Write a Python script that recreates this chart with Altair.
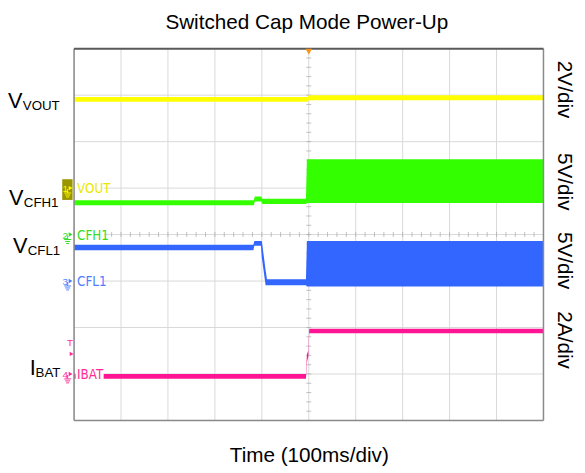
import altair as alt
import pandas as pd

# ---------------- data ----------------
# time in ms (100 ms/div, 10 div); channel values in V or A
channels = ["VOUT", "CFH1", "CFL1", "IBAT"]
ref_div = [5, 4, 3, 1]          # ground reference position (div)
per_div = [2, 5, 5, 2]          # units per division
scale_text = ["2V/div", "5V/div", "5V/div", "2A/div"]

vout_t = [0, 498, 500, 1000]
vout_lo = [3.72, 3.72, 3.78, 3.78]
vout_hi = [3.92, 3.92, 4.00, 4.00]

cfh1_t = [0, 383, 385, 399, 401, 494, 496, 1000]
cfh1_lo = [3.15, 3.15, 3.55, 3.55, 3.30, 3.30, 3.40, 3.40]
cfh1_hi = [3.70, 3.70, 4.10, 4.10, 3.85, 3.85, 8.10, 8.10]

cfl1_t = [0, 382, 384, 398, 400, 408, 411, 494, 496, 1000]
cfl1_lo = [3.30, 3.30, 3.80, 3.80, 2.50, -0.45, -0.45, -0.45, -0.60, -0.60]
cfl1_hi = [3.90, 3.90, 4.30, 4.30, 4.30, 1.20, 0.20, 0.20, 4.30, 4.30]

ibat_t = [0, 494, 496, 499, 501, 1000]
ibat_lo = [-0.20, -0.20, 0.50, 0.75, 1.75, 1.75]
ibat_hi = [0.00, 0.00, 0.85, 1.00, 1.95, 1.95]

grid_t = [0, 100, 200, 300, 400, 500, 600, 700, 800, 900, 1000]
grid_v = [0, 1, 2, 3, 4, 5, 6, 7, 8]

# ---------------- styling / layout ----------------
W, H = 476, 377
FONT = "Liberation Sans, Arial, sans-serif"
NARROW = "Liberation Sans Narrow, DejaVu Sans Condensed, Liberation Sans, sans-serif"
trace_colors = ["#ffff00", "#33ff00", "#3366ff", "#ff1493"]
label_colors = ["#e8e800", "#33dd22", "#4f7dff", "#ff2a95"]
GRID = "#d8d8d8"

series = [(vout_t, vout_lo, vout_hi), (cfh1_t, cfh1_lo, cfh1_hi),
          (cfl1_t, cfl1_lo, cfl1_hi), (ibat_t, ibat_lo, ibat_hi)]
rows = []
for name, (ts, los, his), r, d in zip(channels, series, ref_div, per_div):
    for t, lo, hi in zip(ts, los, his):
        rows.append({"ch": name, "t": t, "lo": r + lo / d, "hi": r + hi / d})
df = pd.DataFrame(rows)

xs = alt.Scale(domain=[0, 1000], nice=False, zero=False)
ys = alt.Scale(domain=[0, 8], nice=False, zero=False)

# grid
vgrid = alt.Chart(pd.DataFrame({"t": grid_t})).mark_rule(color=GRID, strokeWidth=1).encode(
    x=alt.X("t:Q", scale=xs, axis=None))
hgrid = alt.Chart(pd.DataFrame({"v": grid_v})).mark_rule(color=GRID, strokeWidth=1).encode(
    y=alt.Y("v:Q", scale=ys, axis=None))

traces = alt.Chart(df).mark_area(opacity=1, interpolate="linear").encode(
    x=alt.X("t:Q", scale=xs, axis=None),
    y=alt.Y("lo:Q", scale=ys, axis=None),
    y2="hi:Q",
    color=alt.Color("ch:N", scale=alt.Scale(domain=channels, range=trace_colors), legend=None),
    detail="ch:N",
)

# minor ticks on centre cross-hair
hticks = pd.DataFrame({"t": list(range(0, 1001, 20))})
vticks = pd.DataFrame({"v": [i / 5 for i in range(0, 41)]})
tick_h = alt.Chart(hticks).mark_tick(orient="vertical", size=5, thickness=1, color="#a8a8a8").encode(
    x=alt.X("t:Q", scale=xs, axis=None), y=alt.value(H / 2))
tick_v = alt.Chart(vticks).mark_tick(orient="horizontal", size=5, thickness=1, color="#a8a8a8").encode(
    y=alt.Y("v:Q", scale=ys, axis=None), x=alt.value(W / 2))

one = alt.Data(values=[{}])


def txt(text, x, y, size, color="black", align="left", baseline="alphabetic", angle=0, font=FONT):
    kw = dict(text=text, align=align, baseline=baseline, fontSize=size, color=color, font=font)
    if angle:
        kw["angle"] = angle
    return alt.Chart(one).mark_text(**kw).encode(x=alt.value(x), y=alt.value(y))


def rect(x1, x2, y1, y2, color):
    return alt.Chart(one).mark_rect(color=color).encode(
        x=alt.value(x1), x2=alt.value(x2), y=alt.value(y1), y2=alt.value(y2))


def rule(x1, x2, y1, y2, color, w=1):
    return alt.Chart(one).mark_rule(color=color, strokeWidth=w).encode(
        x=alt.value(x1), x2=alt.value(x2), y=alt.value(y1), y2=alt.value(y2))


def tri(x, y, color, size=22, shape="triangle-right"):
    return alt.Chart(one).mark_point(shape=shape, filled=True, size=size, color=color, opacity=1).encode(
        x=alt.value(x), y=alt.value(y))


layers = [vgrid, hgrid, tick_h, tick_v, traces]

# frame
layers.append(rule(0, 0, 0, H, "#8a8a8a", 1.5))
layers.append(rule(W, W, 0, H, "#8a8a8a", 1.5))
layers.append(rule(0, W, H, H, "#8a8a8a", 1.5))
layers.append(rule(0, W, 0, 0, "#5a5a5a", 2))

# channel reference markers and in-screen labels
for i, name in enumerate(channels):
    py = H * (1 - ref_div[i] / 8)
    c = label_colors[i]
    layers.append(rect(1.5, 30, py - 7, py + 7, "white"))
    layers.append(txt(name, 3, py + 5, 13.5, c, font=NARROW))
    if i == 0:
        layers.append(rect(-12, -1.5, py - 9, py + 12, "#9a9400"))
        c = "#ffff00"
    layers.append(txt(str(i + 1), -9, py + 4, 10, c, align="center"))
    layers.append(tri(-3.5, py, c, size=20))
    layers.append(rule(-6.5, -6.5, py + 1, py + 5, c))
    layers.append(rule(-10, -3, py + 5, py + 5, c))
    layers.append(rule(-9, -4, py + 7, py + 7, c))
    layers.append(rule(-8, -5, py + 9, py + 9, c))

# trigger level marker (T) for IBAT
layers.append(txt("T", -4, 302, 10, label_colors[3], align="center"))
layers.append(tri(-2.5, 309.5, label_colors[3], size=20))

# trigger position marker at top
layers.append(alt.Chart(pd.DataFrame({"t": [500]})).mark_point(
    shape="triangle-down", filled=True, size=45, color="#f7941d", opacity=1).encode(
    x=alt.X("t:Q", scale=xs, axis=None), y=alt.value(3)))

# left signal names
left_labels = [("V", "VOUT", -67, -52, 60), ("V", "CFH1", -66, -51, 159),
               ("V", "CFL1", -62, -47, 207), ("I", "BAT", -45, -39, 331)]
for big, sub, xb, xsb, yb in left_labels:
    layers.append(txt(big, xb, yb, 22))
    layers.append(txt(sub, xsb, yb + 2, 13.5))

# right scale labels (rotated)
for s, yc in zip(scale_text, [41.5, 135, 215, 295.5]):
    layers.append(txt(s, 490.5, yc, 21, align="center", angle=90))

# title and x-axis title
layers.append(txt("Switched Cap Mode Power-Up", 236, -20, 21, align="center"))
layers.append(txt("Time (100ms/div)", 238.5, 419, 21, align="center"))

chart = alt.layer(*layers).properties(
    width=W, height=H,
    padding={"left": 67, "top": 38, "right": 34, "bottom": 48},
    autosize=alt.AutoSizeParams(type="none"),
).configure_view(stroke=None)

chart.save("out.html", embed_options={"renderer": "svg", "actions": False})
